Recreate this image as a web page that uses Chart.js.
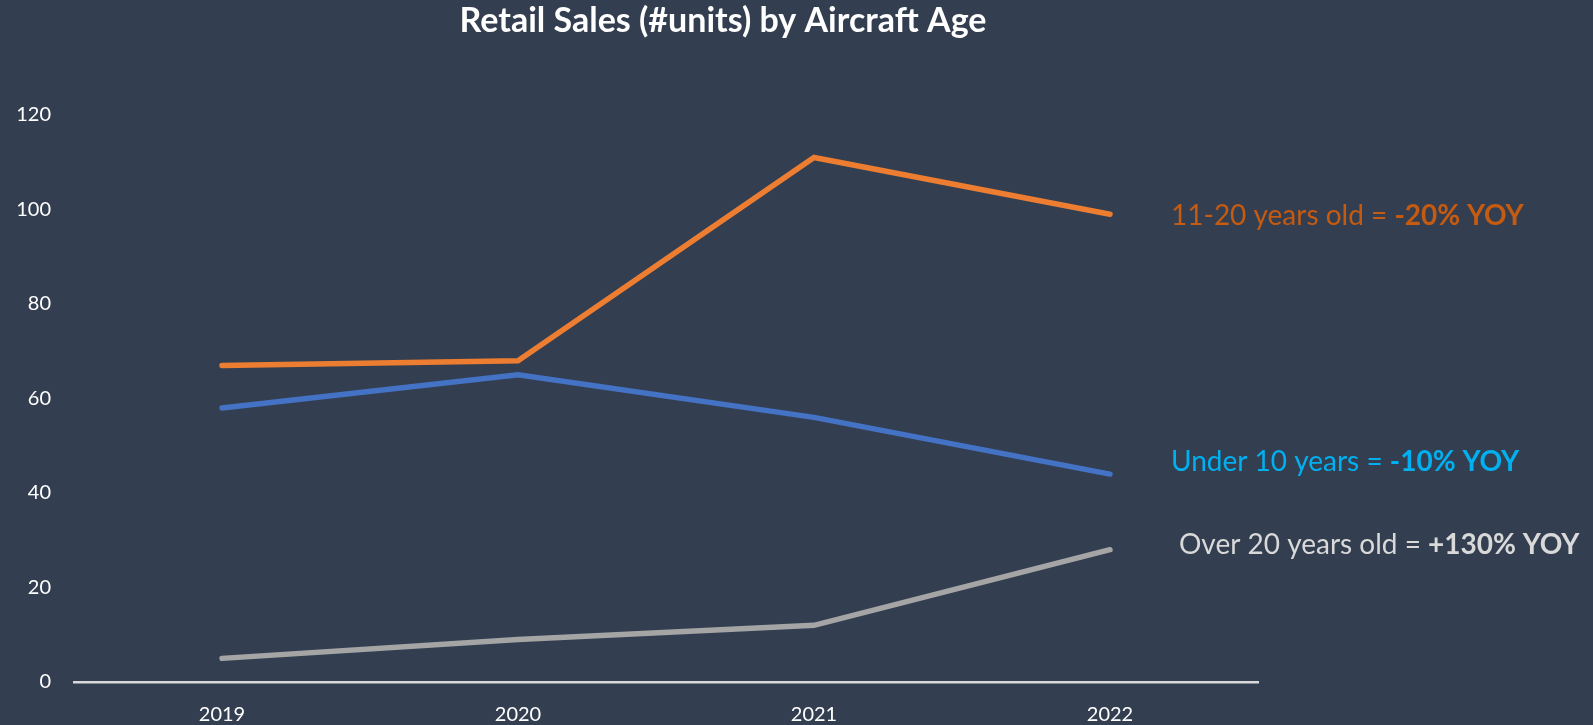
<!DOCTYPE html>
<html>
<head>
<meta charset="utf-8">
<script src="https://cdn.jsdelivr.net/npm/chart.js@4/dist/chart.umd.min.js"></script>
<style>
  html, body { margin: 0; padding: 0; background: #333f50; }
  #wrap { width: 1593px; height: 725px; position: relative; }
</style>
</head>
<body>
<div id="wrap"><canvas id="salesChart"></canvas></div>
<script>
const years = ['2019', '2020', '2021', '2022'];
const under10 = [58, 65, 56, 44];
const age11to20 = [67, 68, 111, 99];
const over20 = [5, 9, 12, 28];
const yTicks = [0, 20, 40, 60, 80, 100, 120];

const chartTitle = 'Retail Sales (#units) by Aircraft Age';
const notes = [
    { text: '11-20 years old = ', bold: '-20% YOY', color: '#c55a11', x: 1171, y: 216 },
    { text: 'Under 10 years = ', bold: '-10% YOY', color: '#00b0f0', x: 1171, y: 462 },
    { text: 'Over 20 years old = ', bold: '+130% YOY', color: '#d9d9d9', x: 1179, y: 545 }
];

const FONT = 'Lato, "Open Sans", sans-serif';

// title + side notes drawn straight onto the canvas
const textPlugin = {
    id: 'textPlugin',
    afterDraw(chart) {
        const c = chart.ctx;
        c.save();
        c.textBaseline = 'middle';
        c.fillStyle = '#ffffff';
        c.textAlign = 'center';
        c.font = 'bold 34px ' + FONT;
        c.fillText(chartTitle, 723, 21);

        c.textAlign = 'left';
        notes.forEach(n => {
            c.fillStyle = n.color;
            c.font = '28px ' + FONT;
            c.fillText(n.text, n.x, n.y);
            const w = c.measureText(n.text).width;
            c.font = 'bold 28px ' + FONT;
            c.fillText(n.bold, n.x + w, n.y);
        });
        c.restore();
    }
};

const lineStyle = { pointRadius: 0, borderWidth: 5.5, borderCapStyle: 'round', borderJoinStyle: 'miter', tension: 0 };

new Chart(document.getElementById('salesChart'), {
    type: 'line',
    data: {
        labels: years,
        datasets: [
            { label: 'Over 20 years old', data: over20, borderColor: '#a5a5a5', ...lineStyle },
            { label: 'Under 10 years', data: under10, borderColor: '#4472c4', ...lineStyle },
            { label: '11-20 years old', data: age11to20, borderColor: '#ed7d31', ...lineStyle }
        ]
    },
    options: {
        responsive: true, maintainAspectRatio: false, animation: false,
        layout: { padding: { left: 0, right: 335, top: 115, bottom: 0 } },
        scales: {
            x: {
                offset: true,
                grid: { display: false, drawTicks: false },
                border: { color: '#d9d9d9', width: 2.5 },
                ticks: { color: '#ffffff', font: { family: FONT, size: 20 }, padding: 21 },
                afterFit: s => { s.height = 43; }
            },
            y: {
                min: 0, max: 120,
                afterBuildTicks: s => { s.ticks = yTicks.map(v => ({ value: v })); },
                grid: { display: false, drawTicks: false },
                border: { display: false },
                ticks: { color: '#ffffff', font: { family: FONT, size: 20 }, padding: 23 },
                afterFit: s => { s.width = 74; }
            }
        },
        plugins: { legend: { display: false }, tooltip: { enabled: false } }
    },
    plugins: [textPlugin]
});
</script>
</body>
</html>
